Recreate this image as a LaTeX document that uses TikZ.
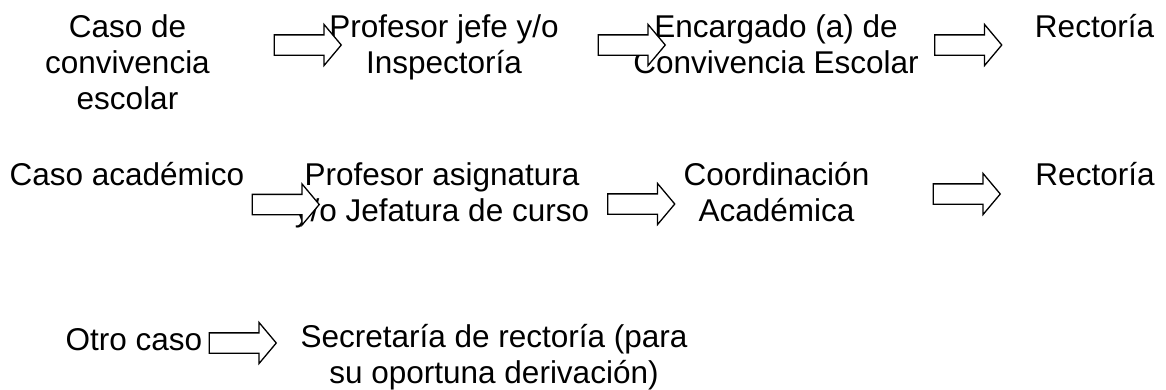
\documentclass[tikz,border=0pt]{standalone}
\usepackage{fontspec}
\setmainfont{Liberation Sans}
\usepackage{tikz}
\usetikzlibrary{shapes.arrows}

\begin{document}
\begin{tikzpicture}[x=1pt,y=-1pt,font=\fontsize{31.5}{36}\selectfont]
		\tikzstyle{paso}=[align=center, inner sep=0pt, anchor=base]
		\tikzstyle{flecha}=[single arrow, draw=black, line width=1.3pt, fill=white, minimum height=67pt, minimum width=40pt, inner xsep=0pt, inner ysep=9.5pt, single arrow head extend=10.5pt, single arrow tip angle=100]

		\useasboundingbox (0,0) rectangle (1166,389);

		% fila 1 (base = ultima linea)
		\node [paso] (conv) at (127.5,109) {Caso de\\convivencia\\escolar};
		\node [paso] (jefe) at (444,73) {Profesor jefe y/o\\Inspectoría};
		\node [paso] (encargado) at (776,73) {Encargado (a) de\\Convivencia Escolar};
		\node [paso] (rect1) at (1094.5,37) {Rectoría};
		\node [flecha] (f1) at (303.5,45) {};
		\node [flecha] (f2) at (627.5,45) {};
		\node [flecha] (f3) at (964,45) {};

		% fila 2
		\node [paso] (acad) at (127,185) {Caso académico};
		\node [paso] (asig) at (442,221) {Profesor asignatura\\y/o Jefatura de curso};
		\node [paso] (coord) at (776.5,221) {Coordinación\\Académica};
		\node [paso] (rect2) at (1095,185) {Rectoría};
		\node [flecha] (f4) at (281.5,204.5) {};
		\node [flecha] (f5) at (637,204) {};
		\node [flecha] (f6) at (962.5,194) {};

		% fila 3
		\node [paso] (otro) at (134,350) {Otro caso};
		\node [paso] (secre) at (494,383) {Secretaría de rectoría (para\\su oportuna derivación)};
		\node [flecha] (f7) at (238.5,343) {};
	\end{tikzpicture}
\end{document}
